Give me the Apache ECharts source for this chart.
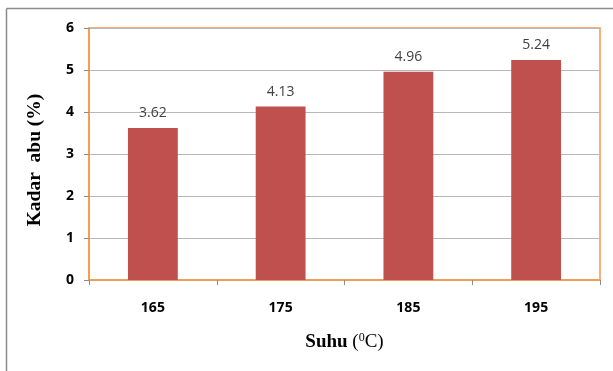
<!DOCTYPE html>
<html>
<head>
<meta charset="utf-8">
<script src="https://cdn.jsdelivr.net/npm/echarts@6/dist/echarts.min.js"></script>
<style>html,body{margin:0;padding:0;background:#fff}#c{width:613px;height:371px}</style>
</head>
<body>
<div id="c"></div>
<script>
const categories = ['165', '175', '185', '195'];
const kadarAbu = [3.62, 4.13, 4.96, 5.24];
const yTicks = [0, 1, 2, 3, 4, 5, 6];

const chart = echarts.init(document.getElementById('c'), null, {renderer: 'canvas'});
chart.setOption({
  animation: false,
  backgroundColor: '#ffffff',
  graphic: [
    {type: 'line', shape: {x1: 6.5, y1: 8.5, x2: 613, y2: 8.5}, style: {stroke: '#8c8c8c', lineWidth: 1.5}},
    {type: 'line', shape: {x1: 6.5, y1: 8.5, x2: 6.5, y2: 371}, style: {stroke: '#8c8c8c', lineWidth: 1.5}}
  ],
  grid: {left: 89, top: 28, right: 13, bottom: 91, show: true, borderColor: '#f79646', borderWidth: 1.5, backgroundColor: 'transparent'},
  xAxis: {
    type: 'category',
    data: categories,
    axisLine: {show: true, lineStyle: {color: '#f79646', width: 1.5}},
    axisTick: {show: true, length: 5, lineStyle: {color: '#8c8c8c'}},
    axisLabel: {color: '#000', fontWeight: 'bold', fontSize: 14, fontFamily: 'Open Sans, sans-serif', margin: 21},
    name: '{b|Suhu }{n|(}{s|0}{n|C)}',
    nameLocation: 'middle',
    nameGap: 52,
    nameTextStyle: {
      rich: {
        b: {fontFamily: 'Liberation Serif, serif', fontWeight: 'bold', fontSize: 19, color: '#000'},
        n: {fontFamily: 'Liberation Serif, serif', fontSize: 19, color: '#000'},
        s: {fontFamily: 'Liberation Serif, serif', fontSize: 12, color: '#000', verticalAlign: 'top', padding: [0, 0, 9, 0]}
      }
    }
  },
  yAxis: {
    type: 'value',
    min: 0, max: 6, interval: 1,
    axisLine: {show: true, lineStyle: {color: '#f79646', width: 1.5}},
    axisTick: {show: true, length: 5, lineStyle: {color: '#8c8c8c'}},
    splitLine: {show: true, lineStyle: {color: '#b7b7b7', width: 1}},
    axisLabel: {color: '#000', fontWeight: 'bold', fontSize: 14, fontFamily: 'Open Sans, sans-serif', margin: 15,
      formatter: v => yTicks.includes(v) ? String(v) : ''},
    name: 'Kadar  abu (%)',
    nameLocation: 'middle',
    nameGap: 44,
    nameTextStyle: {fontFamily: 'Liberation Serif, serif', fontWeight: 'bold', fontSize: 19.5, color: '#000', padding: [0, 12, 0, 0]}
  },
  series: [{
    type: 'bar',
    data: kadarAbu,
    barWidth: '39%',
    itemStyle: {color: '#c0504d'},
    label: {show: true, position: 'top', distance: 8, color: '#404040', fontSize: 14, fontFamily: 'Open Sans, sans-serif',
      formatter: p => p.value.toFixed(2)}
  }]
});
</script>
</body>
</html>
